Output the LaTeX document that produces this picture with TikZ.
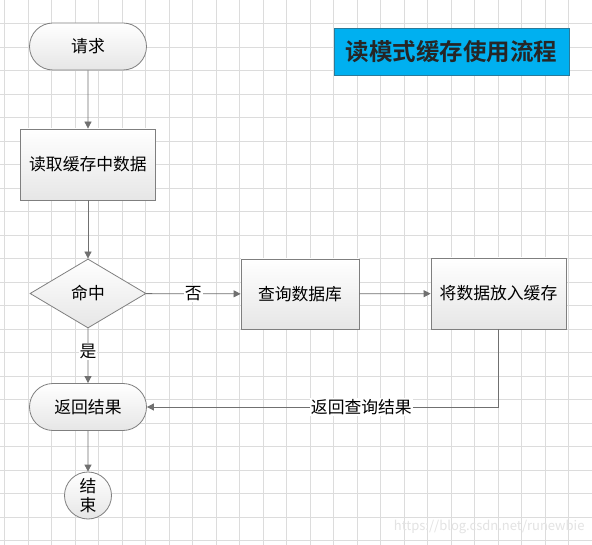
\documentclass[tikz,border=0pt]{standalone}
\usepackage{fontspec}
\setmainfont{Noto Sans CJK SC}
\newfontfamily\titlefont{Noto Sans CJK SC Bold}
\usetikzlibrary{shapes.geometric,shapes.misc,arrows.meta}
\definecolor{gridc}{HTML}{DCDCDC}
\definecolor{edgec}{HTML}{707070}
\definecolor{bordc}{HTML}{7F7F7F}
\definecolor{titlec}{HTML}{00B0F0}
\definecolor{titleb}{HTML}{2A7A9A}
\definecolor{nodebot}{HTML}{E6E6E6}
\begin{document}
\begin{tikzpicture}[x=1pt,y=-1pt,
  gridline/.style={draw=gridc,line width=0.7pt},
  base/.style={draw=bordc,line width=0.8pt,top color=white,bottom color=nodebot,font=\fontsize{16.8}{18}\selectfont,inner sep=0pt},
  proc/.style={base,rectangle},
  term/.style={base,rounded rectangle,minimum width=117pt,minimum height=47pt},
  decision/.style={base,diamond,minimum width=116pt,minimum height=69pt},
  endc/.style={base,circle,minimum size=47pt,align=center,font=\fontsize{16.8}{19}\selectfont},
  flow/.style={draw=edgec,line width=0.8pt,-{Triangle[length=7pt,width=7pt]}},
  elabel/.style={fill=white,inner sep=1pt,font=\fontsize{16.8}{18}\selectfont},
  titlebox/.style={draw=titleb,line width=0.6pt,fill=titlec,minimum width=235pt,minimum height=47pt,text=black!85,font=\titlefont\fontsize{23.5}{26}\selectfont}
]
\useasboundingbox (0,0) rectangle (592,545);
\fill[white] (0,0) rectangle (592,545);
\foreach \i in {0,...,25} \draw[gridline] ({4.5+23.5*\i},0) -- ({4.5+23.5*\i},545);
\foreach \j in {1,...,23} \draw[gridline] (0,{23.5*\j}) -- (592,{23.5*\j});

\node[term] (req) at (88,46.5) {请求};
\node[proc,minimum width=135pt,minimum height=71pt] (read) at (88,164.5) {读取缓存中数据};
\node[decision] (hit) at (88,293.5) {命中};
\node[proc,minimum width=118pt,minimum height=70pt] (query) at (300,294) {查询数据库};
\node[proc,minimum width=135pt,minimum height=71pt] (put) at (498.5,293.5) {将数据放入缓存};
\node[term] (ret) at (88,407) {返回结果};
\node[endc] (fin) at (88,495.5) {结\\束};
\node[titlebox] (title) at (451.5,51.5) {读模式缓存使用流程};
\node[text=gray!22,font=\fontsize{13}{15}\selectfont,anchor=east] (wm) at (588,527) {https://blog.csdn.net/runewbie};

\draw[flow] (req) -- (read);
\draw[flow] (read) -- (hit);
\draw[flow] (hit) -- node[elabel] {否} (query);
\draw[flow] (query) -- (put);
\draw[flow] (hit) -- node[elabel,pos=0.42] {是} (ret);
\draw[flow] (put.south) |- node[elabel,pos=0.695] {返回查询结果} (ret.east);
\draw[flow] (ret) -- (fin);
\end{tikzpicture}
\end{document}
